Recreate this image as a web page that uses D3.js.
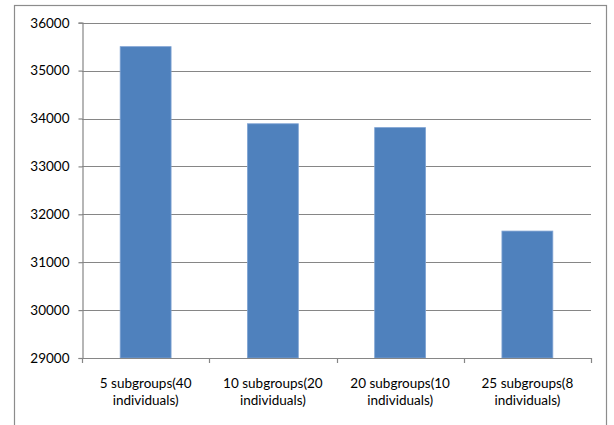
<!DOCTYPE html>
<html>
<head>
<meta charset="utf-8">
<script src="https://cdn.jsdelivr.net/npm/d3@7"></script>
<style>
  html, body { margin: 0; padding: 0; background: #ffffff; }
  svg { display: block; }
  text { font-family: Lato, "Open Sans", sans-serif; fill: #000; }
</style>
</head>
<body>
<svg id="chart" width="614" height="425"></svg>
<script>
// Chart data
const categories = [
  ["5 subgroups(40", "individuals)"],
  ["10 subgroups(20", "individuals)"],
  ["20 subgroups(10", "individuals)"],
  ["25 subgroups(8", "individuals)"]
];
const values = [35500, 33890, 33810, 31650];
const yTicks = [29000, 30000, 31000, 32000, 33000, 34000, 35000, 36000];

const svg = d3.select("#chart");
const plot = { left: 82, right: 591, top: 22.7, bottom: 358 };

// Outer chart border
svg.append("rect")
  .attr("x", 14.5).attr("y", 5.5)
  .attr("width", 592).attr("height", 430)
  .attr("fill", "none")
  .attr("stroke", "#8c8c8c")
  .attr("stroke-width", 1.2);

const x = d3.scaleBand()
  .domain(d3.range(categories.length))
  .range([plot.left, plot.right])
  .paddingInner(0.6)
  .paddingOuter(0.3);

const y = d3.scaleLinear()
  .domain([29000, 36000])
  .range([plot.bottom, plot.top]);

// Horizontal gridlines
svg.append("g")
  .selectAll("line")
  .data(yTicks.filter(d => d > 29000))
  .join("line")
  .attr("x1", plot.left).attr("x2", plot.right)
  .attr("y1", d => Math.round(y(d)) + 0.5)
  .attr("y2", d => Math.round(y(d)) + 0.5)
  .attr("stroke", "#868686")
  .attr("stroke-width", 1.2);

// Bars
svg.append("g")
  .selectAll("rect")
  .data(values)
  .join("rect")
  .attr("x", (d, i) => x(i))
  .attr("y", d => y(d))
  .attr("width", x.bandwidth())
  .attr("height", d => plot.bottom - y(d))
  .attr("fill", "#4f81bd")
  .attr("stroke", "#7fa3d3")
  .attr("stroke-width", 0.8);

// Y axis
const yAxis = d3.axisLeft(y)
  .tickValues(yTicks)
  .tickFormat(d3.format("d"))
  .tickSize(4)
  .tickPadding(9);
const gy = svg.append("g")
  .attr("transform", `translate(${plot.left + 0.5},0)`)
  .call(yAxis);
gy.select(".domain").attr("stroke", "#868686").attr("stroke-width", 1.2);
gy.selectAll(".tick line").attr("stroke", "#868686").attr("stroke-width", 1.2);
gy.selectAll(".tick text").style("font-size", "13.5px").attr("fill", "#000");

// X axis line with category boundary ticks
const bandEdges = d3.range(categories.length + 1)
  .map(i => plot.left + i * (plot.right - plot.left) / categories.length);
svg.append("line")
  .attr("x1", plot.left).attr("x2", plot.right)
  .attr("y1", plot.bottom + 0.5).attr("y2", plot.bottom + 0.5)
  .attr("stroke", "#868686").attr("stroke-width", 1.2);
svg.append("g")
  .selectAll("line")
  .data(bandEdges)
  .join("line")
  .attr("x1", d => Math.round(d) + 0.5).attr("x2", d => Math.round(d) + 0.5)
  .attr("y1", plot.bottom).attr("y2", plot.bottom + 5)
  .attr("stroke", "#868686").attr("stroke-width", 1.2);

// Category labels (two lines each)
const labels = svg.append("g")
  .selectAll("text")
  .data(categories)
  .join("text")
  .attr("text-anchor", "middle")
  .style("font-size", "13.5px")
  .attr("transform", (d, i) => `translate(${x(i) + x.bandwidth() / 2},0)`);
labels.each(function(lines) {
  d3.select(this).selectAll("tspan")
    .data(lines)
    .join("tspan")
    .attr("x", 0)
    .attr("y", (l, j) => 388 + j * 17)
    .text(l => l);
});
</script>
</body>
</html>
